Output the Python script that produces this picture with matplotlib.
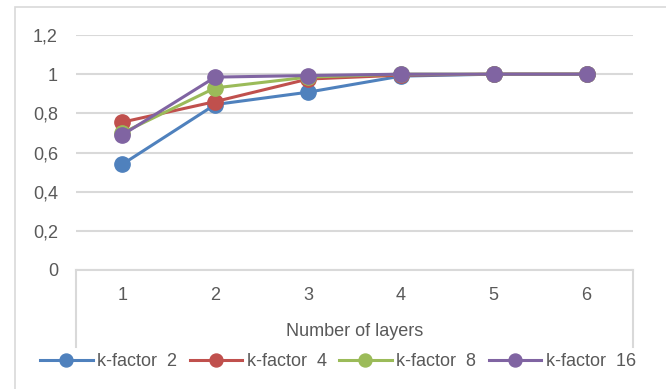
import matplotlib.pyplot as plt
from matplotlib.patches import Rectangle
from matplotlib.lines import Line2D

layers = [1, 2, 3, 4, 5, 6]
k2 = [0.54, 0.845, 0.908, 0.99, 1.0, 1.0]
k4 = [0.755, 0.86, 0.975, 0.995, 1.0, 1.0]
k8 = [0.70, 0.93, 0.985, 1.0, 1.0, 1.0]
k16 = [0.69, 0.985, 0.993, 1.0, 1.0, 1.0]
labels = ['k-factor  2', 'k-factor  4', 'k-factor  8', 'k-factor  16']
colors = ['#4F81BD', '#C0504D', '#9BBB59', '#8064A2']
yticks = [0, 0.2, 0.4, 0.6, 0.8, 1.0, 1.2]
ytick_labels = ['0', '0,2', '0,4', '0,6', '0,8', '1', '1,2']

plt.rcParams['font.family'] = ['Liberation Sans Narrow', 'Liberation Sans', 'DejaVu Sans']
text_color = '#595959'
grid_color = '#D9D9D9'

W, H = 666, 389
fig = plt.figure(figsize=(W / 100, H / 100), dpi=100)

# chart frame
fig.patches.append(Rectangle((15 / W, -0.1), 1.2, 1 - 7 / H + 0.1,
                             transform=fig.transFigure, fill=False,
                             edgecolor=grid_color, linewidth=1.2))

left, right = 76 / W, 633 / W
top, bottom = 1 - 35 / H, 1 - 270 / H
ax = fig.add_axes([left, bottom, right - left, top - bottom])

for series, lab, col in zip([k2, k4, k8, k16], labels, colors):
    ax.plot(layers, series, color=col, linewidth=2.2, marker='o',
            markersize=11, label=lab, clip_on=False, zorder=3)

ax.set_xlim(0.5, 6.5)
ax.set_ylim(0, 1.2)
ax.set_yticks(yticks)
ax.set_yticklabels(ytick_labels)
ax.set_xticks(layers)
ax.yaxis.grid(True, color=grid_color, linewidth=1.5)
ax.set_axisbelow(True)
for s in ['top', 'right', 'left']:
    ax.spines[s].set_visible(False)
ax.spines['bottom'].set_color(grid_color)
ax.spines['bottom'].set_linewidth(1.5)
ax.tick_params(axis='both', length=0, labelsize=13, colors=text_color)
ax.tick_params(axis='y', pad=13)
ax.tick_params(axis='x', pad=12)
ax.set_xlabel('Number of layers', fontsize=13, color=text_color, labelpad=14)

# side lines below the category axis
for x in [left, right]:
    fig.add_artist(Line2D([x, x], [bottom, 1 - 347 / H],
                          transform=fig.transFigure, color=grid_color, linewidth=1.5))

ax.legend(loc='center', bbox_to_anchor=(0.5 * (42 + 634) / W, 1 - 362 / H),
          bbox_transform=fig.transFigure, ncol=4, frameon=False,
          fontsize=13, labelcolor=text_color, handlelength=2.9,
          handletextpad=0.25, columnspacing=0.7, markerscale=0.85)

fig.savefig('out.png', dpi=100)
